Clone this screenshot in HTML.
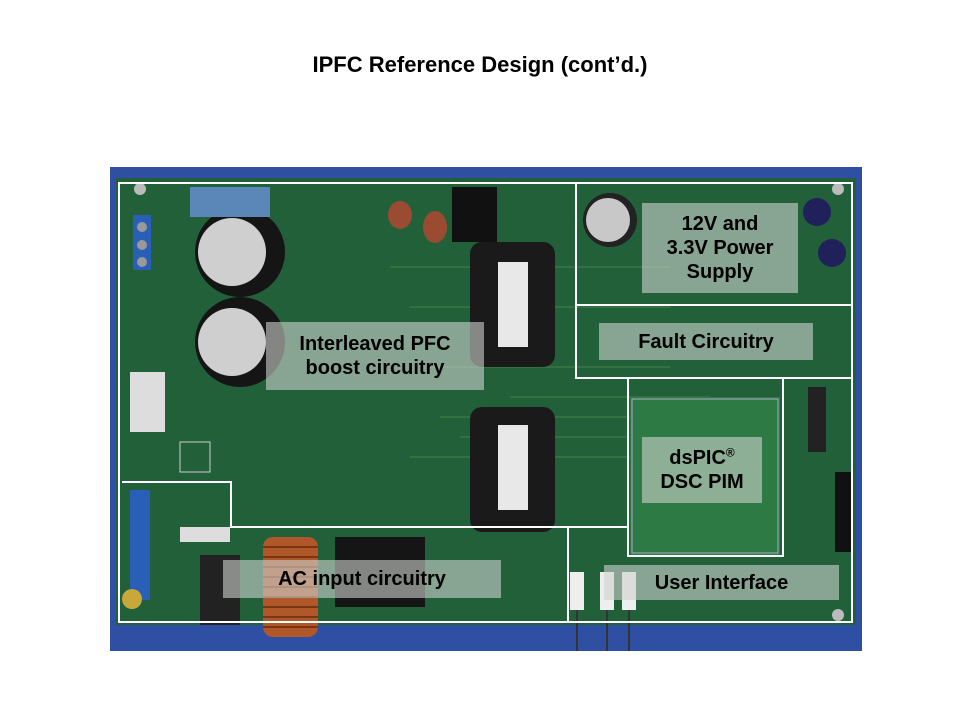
<!DOCTYPE html>
<html><head><style>
body{margin:0;background:#fff;}
#c{position:relative;width:960px;height:720px;overflow:hidden;background:#fff;font-family:"Liberation Sans",Arial,sans-serif;}
.a{position:absolute;}
.t{position:absolute;background:rgba(205,210,205,0.6);color:#000;font-weight:bold;font-size:20px;text-align:center;line-height:24px;display:flex;align-items:center;justify-content:center;}
.w{position:absolute;background:#fff;}
</style></head><body><div id="c">
<div class="a" style="left:0;top:52px;width:960px;text-align:center;font-weight:bold;font-size:22px;">IPFC Reference Design (cont’d.)</div>
<div class="a" style="left:110px;top:167px;width:752px;height:484px;background:#2f4fa3;"></div>
<div class="a" style="left:116px;top:178px;width:740px;height:447px;background:#22603a;"></div>
<svg class="a" style="left:110px;top:167px" width="752" height="484">
<g fill="none" stroke="#3f7a45" stroke-width="1.2">
<path d="M280 100 L560 100 M300 140 L560 140 M320 200 L560 200 M330 250 L600 250 M350 270 L640 270 M300 290 L620 290 M400 230 L600 230"/>
</g>
<rect x="23" y="48" width="18" height="55" fill="#2a5fb8"/><rect x="20" y="323" width="20" height="110" fill="#2a5fb8"/>
<circle cx="32" cy="60" r="5" fill="#999"/><circle cx="32" cy="78" r="5" fill="#999"/><circle cx="32" cy="95" r="5" fill="#999"/>
<circle cx="130" cy="85" r="45" fill="#151515"/><circle cx="122" cy="85" r="34" fill="#cfcfcf"/>
<circle cx="130" cy="175" r="45" fill="#151515"/><circle cx="122" cy="175" r="34" fill="#cfcfcf"/>
<circle cx="500" cy="53" r="27" fill="#222"/><circle cx="498" cy="53" r="22" fill="#c8c8c8"/>
<circle cx="707" cy="45" r="14" fill="#20205a"/><circle cx="722" cy="86" r="14" fill="#20205a"/>
<rect x="80" y="20" width="80" height="30" fill="#5b86b8"/>
<rect x="360" y="75" width="85" height="125" rx="12" fill="#1a1a1a"/><rect x="388" y="95" width="30" height="85" fill="#e8e8e8"/>
<rect x="360" y="240" width="85" height="125" rx="12" fill="#1a1a1a"/><rect x="388" y="258" width="30" height="85" fill="#e8e8e8"/>
<rect x="342" y="20" width="45" height="55" fill="#111"/>
<ellipse cx="290" cy="48" rx="12" ry="14" fill="#9b4b32"/><ellipse cx="325" cy="60" rx="12" ry="16" fill="#9b4b32"/>
<rect x="153" y="370" width="55" height="100" rx="10" fill="#b0582a"/>
<g stroke="#7a3514" stroke-width="2"><path d="M153 380H208M153 390H208M153 400H208M153 410H208M153 420H208M153 430H208M153 440H208M153 450H208M153 460H208"/></g>
<rect x="225" y="370" width="90" height="70" fill="#151515"/>
<rect x="90" y="388" width="40" height="70" fill="#222"/><rect x="70" y="360" width="50" height="15" fill="#ddd"/>
<circle cx="22" cy="432" r="10" fill="#c9a83a"/>
<rect x="520" y="230" width="150" height="158" fill="#2d7a45"/>
<rect x="522" y="232" width="146" height="154" fill="none" stroke="#aac" stroke-width="1"/>
<rect x="725" y="305" width="18" height="80" fill="#111"/>
<rect x="698" y="220" width="18" height="65" fill="#222"/>
<rect x="460" y="405" width="14" height="38" fill="#eee"/><rect x="490" y="405" width="14" height="38" fill="#eee"/><rect x="512" y="405" width="14" height="38" fill="#eee"/>
<path d="M467 443V484M497 443V484M519 443V484" stroke="#333" stroke-width="2"/>
<circle cx="30" cy="22" r="6" fill="#bbb"/><circle cx="728" cy="22" r="6" fill="#bbb"/><circle cx="728" cy="448" r="6" fill="#bbb"/>
<rect x="20" y="205" width="35" height="60" fill="#ddd"/>
<rect x="70" y="275" width="30" height="30" fill="#22603a" stroke="#ccc"/>
</svg>
<div class="w" style="left:118px;top:182px;width:735px;height:2px"></div>
<div class="w" style="left:118px;top:182px;width:2px;height:441px"></div>
<div class="w" style="left:851px;top:182px;width:2px;height:441px"></div>
<div class="w" style="left:118px;top:621px;width:735px;height:2px"></div>
<div class="w" style="left:575px;top:182px;width:2px;height:197px"></div>
<div class="w" style="left:575px;top:304px;width:278px;height:2px"></div>
<div class="w" style="left:575px;top:377px;width:278px;height:2px"></div>
<div class="w" style="left:627px;top:378px;width:2px;height:179px"></div>
<div class="w" style="left:782px;top:378px;width:2px;height:179px"></div>
<div class="w" style="left:627px;top:555px;width:157px;height:2px"></div>
<div class="w" style="left:122px;top:481px;width:110px;height:2px"></div>
<div class="w" style="left:230px;top:481px;width:2px;height:47px"></div>
<div class="w" style="left:230px;top:526px;width:398px;height:2px"></div>
<div class="w" style="left:567px;top:528px;width:2px;height:95px"></div>
<div class="t" style="left:266px;top:322px;width:218px;height:68px"><div>Interleaved PFC<br>boost circuitry</div></div>
<div class="t" style="left:642px;top:203px;width:156px;height:90px"><div>12V and<br>3.3V Power<br>Supply</div></div>
<div class="t" style="left:599px;top:323px;width:214px;height:37px"><div>Fault Circuitry</div></div>
<div class="t" style="left:642px;top:437px;width:120px;height:66px"><div>dsPIC<sup style="font-size:12px;line-height:0">®</sup><br>DSC PIM</div></div>
<div class="t" style="left:223px;top:560px;width:278px;height:38px"><div>AC input circuitry</div></div>
<div class="t" style="left:604px;top:565px;width:235px;height:35px"><div>User Interface</div></div>
</div></body></html>
